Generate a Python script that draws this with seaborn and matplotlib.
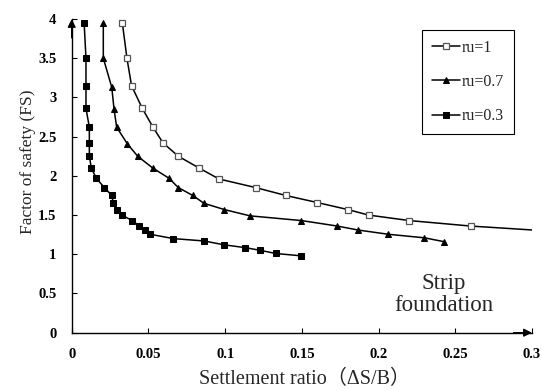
import matplotlib
matplotlib.use("Agg")
import matplotlib.pyplot as plt
import seaborn as sns
import pandas as pd

# ---- data ----
ru1_x = [0.033, 0.036, 0.039, 0.046, 0.053, 0.0595, 0.0695, 0.083, 0.096, 0.120, 0.1395,
         0.160, 0.180, 0.1935, 0.220, 0.260, 0.300]
ru1_y = [3.95, 3.50, 3.15, 2.86, 2.62, 2.42, 2.25, 2.10, 1.96, 1.85, 1.75,
         1.66, 1.57, 1.50, 1.43, 1.36, 1.31]

ru07_x = [0.0206, 0.0206, 0.0261, 0.0276, 0.0293, 0.0362, 0.043, 0.0528, 0.0634, 0.0695,
          0.0789, 0.0862, 0.0995, 0.1162, 0.1497, 0.1731, 0.1864, 0.2064, 0.2299, 0.2429]
ru07_y = [3.95, 3.50, 3.13, 2.85, 2.62, 2.41, 2.25, 2.10, 1.97, 1.85,
          1.75, 1.65, 1.57, 1.49, 1.43, 1.36, 1.31, 1.255, 1.21, 1.16]

ru03_x = [0.0081, 0.0093, 0.0093, 0.0093, 0.0115, 0.0115, 0.0115, 0.0128, 0.016, 0.0213,
          0.0261, 0.0271, 0.0293, 0.0326, 0.0395, 0.0437, 0.048, 0.0512, 0.0662, 0.0862,
          0.0995, 0.113, 0.123, 0.133, 0.1497]
ru03_y = [3.95, 3.50, 3.15, 2.86, 2.62, 2.42, 2.25, 2.10, 1.97, 1.85,
          1.75, 1.66, 1.57, 1.50, 1.43, 1.365, 1.31, 1.255, 1.20, 1.17,
          1.12, 1.085, 1.05, 1.01, 0.98]

labels = ["ru=1", "ru=0.7", "ru=0.3"]
x_ticks = [0, 0.05, 0.1, 0.15, 0.2, 0.25, 0.3]
x_ticklabels = ["0", "0.05", "0.1", "0.15", "0.2", "0.25", "0.3"]
y_ticks = [0, 0.5, 1, 1.5, 2, 2.5, 3, 3.5, 4]
y_ticklabels = ["0", "0.5", "1", "1.5", "2", "2.5", "3", "3.5", "4"]

# ---- style ----
sns.set_style("ticks")
plt.rcParams["font.family"] = ["Liberation Serif", "DejaVu Serif"]

fig = plt.figure(figsize=(5.42, 3.90), dpi=100)
ax = fig.add_axes([0.1323, 0.1469, 0.9815 - 0.1323, 0.9513 - 0.1469])

lw = 1.1
sns.lineplot(x=ru1_x, y=ru1_y, ax=ax, sort=False, estimator=None, color="black", lw=lw,
             marker="s", markersize=4, markerfacecolor="white", markeredgecolor="#555555",
             markeredgewidth=0.9, markevery=list(range(len(ru1_x) - 1)), label=labels[0])
sns.lineplot(x=ru07_x, y=ru07_y, ax=ax, sort=False, estimator=None, color="black", lw=lw,
             marker="^", markersize=5, markerfacecolor="black", markeredgecolor="black",
             label=labels[1])
sns.lineplot(x=ru03_x, y=ru03_y, ax=ax, sort=False, estimator=None, color="black", lw=lw,
             marker="s", markersize=4.5, markerfacecolor="black", markeredgecolor="black",
             label=labels[2])

ax.set_xlim(0, 0.3)
ax.set_ylim(0, 4)
ax.set_xticks(x_ticks)
ax.set_xticklabels(x_ticklabels, fontweight="bold", fontsize=10.5)
ax.set_yticks(y_ticks)
ax.set_yticklabels(y_ticklabels, fontweight="bold", fontsize=10.5)
ax.tick_params(axis="both", direction="in", length=3.5, width=0.8, colors="black")
ax.tick_params(axis="x", pad=11)
ax.tick_params(axis="y", pad=11)

for s in ["top", "right"]:
    ax.spines[s].set_visible(False)
for s in ["left", "bottom"]:
    ax.spines[s].set_color("black")
    ax.spines[s].set_linewidth(1.0)

# arrow heads on axes
ax.annotate("", xy=(1.0, 0), xytext=(0.96, 0), xycoords="axes fraction",
            arrowprops=dict(arrowstyle="-|>", color="black", lw=1.0, mutation_scale=12,
                            shrinkA=0, shrinkB=0), annotation_clip=False)
ax.annotate("", xy=(0, 1.0), xytext=(0, 0.94), xycoords="axes fraction",
            arrowprops=dict(arrowstyle="-|>", color="black", lw=1.0, mutation_scale=12,
                            shrinkA=0, shrinkB=0), annotation_clip=False)

ax.set_xlabel("Settlement ratio（ΔS/B）", fontsize=14.5,
              family=["Liberation Serif", "Noto Sans CJK SC"], va="center")
ax.set_ylabel("Factor of safety (FS)", fontsize=12.5, va="center")
ax.xaxis.set_label_coords(0.507, -0.15)
ax.yaxis.set_label_coords(-0.095, 0.545)

ax.text(0.2427, 0.487, "Strip\nfoundation", fontsize=16.5, ha="center", va="center",
        linespacing=1.05)

leg = ax.legend(loc="upper left", bbox_to_anchor=(0.761, 0.965), fontsize=11.5,
                frameon=True, fancybox=False, edgecolor="black", framealpha=1,
                handlelength=1.8, handletextpad=0.1, labelspacing=1.15,
                borderpad=0.6, borderaxespad=0)
leg.get_frame().set_linewidth(0.8)

fig.savefig("out.png", dpi=100)
